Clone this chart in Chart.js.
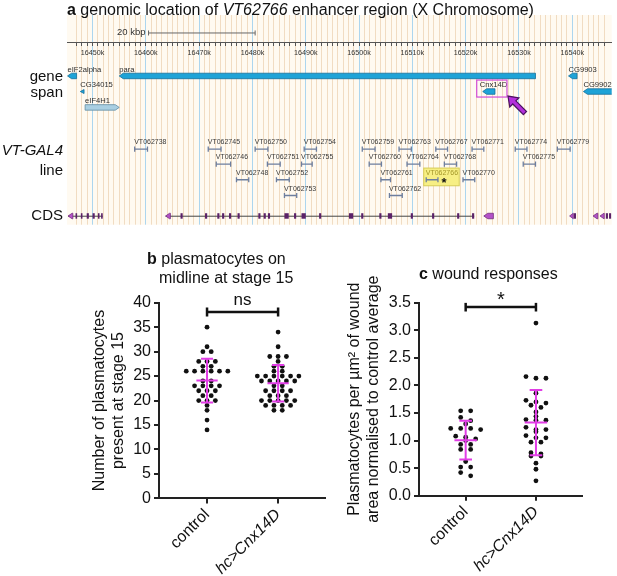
<!DOCTYPE html>
<html>
<head>
<meta charset="utf-8">
<title>VT62766 enhancer / Cnx14D</title>
<script src="https://cdn.jsdelivr.net/npm/chart.js@4.4.1/dist/chart.umd.min.js"></script>
<style>
  body { margin: 0; width: 617px; height: 576px; position: relative; overflow: hidden; background: #fff;
         font-family: "Liberation Sans", Arial, sans-serif; color: #111; }
  canvas { position: absolute; }
  .ttl { position: absolute; font-size: 16px; line-height: 19px; white-space: nowrap; }
</style>
</head>
<body>
<canvas id="genome" width="617" height="230" style="left:0;top:0"></canvas>
<canvas id="plotB" width="335" height="336" style="left:0;top:240px"></canvas>
<canvas id="plotC" width="282" height="336" style="left:335px;top:240px"></canvas>
<div class="ttl" style="left:67px;top:0"><b>a</b> genomic location of <i>VT62766</i> enhancer region (X Chromosome)</div>
<div class="ttl" style="left:147px;top:249px"><b>b</b> plasmatocytes on</div>
<div class="ttl" style="left:159px;top:268px">midline at stage 15</div>
<div class="ttl" style="left:419px;top:264px"><b>c</b> wound responses</div>
<script>
const FONT = '"Liberation Sans", Arial, sans-serif';

// ---- panel a: genome browser (coordinates in kbp) ----
const geneNames  = ['eIF2alpha', 'para', 'CG34015', 'eIF4H1', 'Cnx14D', 'CG9903', 'CG9902'];
const geneStart  = [16445.3, 16455.0, 16447.7, 16448.6, 16523.2, 16539.3, 16542.1];
const geneEnd    = [16447.0, 16533.1, 16448.4, 16455.0, 16525.5, 16540.9, 16560.0];
const geneStrand = [-1, -1, -1, 1, -1, -1, -1];
const geneLane   = [4.07, 4.07, 5.11, 6.17, 5.11, 4.07, 5.11];

const vtNames = ['VT062738', 'VT062745', 'VT062750', 'VT062754', 'VT062759', 'VT062763', 'VT062767', 'VT062771', 'VT062774', 'VT062779',
                 'VT062746', 'VT062751', 'VT062755', 'VT062760', 'VT062764', 'VT062768', 'VT062775',
                 'VT062748', 'VT062752', 'VT062761', 'VT062766', 'VT062770',
                 'VT062753', 'VT062762'];
const vtStart = [16457.9, 16471.7, 16480.5, 16489.7, 16500.6, 16507.5, 16514.4, 16521.2, 16529.3, 16537.2,
                 16473.2, 16482.8, 16489.2, 16501.9, 16509.0, 16516.0, 16530.8,
                 16477.0, 16484.5, 16504.1, 16512.6, 16519.5,
                 16486.0, 16505.7];
const vtEnd   = [16460.3, 16474.1, 16482.9, 16492.0, 16503.0, 16509.8, 16516.6, 16523.4, 16531.5, 16539.6,
                 16475.9, 16485.2, 16491.2, 16504.2, 16511.4, 16518.3, 16533.1,
                 16479.3, 16486.9, 16505.9, 16514.8, 16521.7,
                 16488.3, 16508.1];
const vtLane  = [8.95, 8.95, 8.95, 8.95, 8.95, 8.95, 8.95, 8.95, 8.95, 8.95,
                 9.95, 9.95, 9.95, 9.95, 9.95, 9.95, 9.95,
                 11.0, 11.0, 11.0, 11.0, 11.0,
                 12.05, 12.05];

const cdsLane = 13.4;
const cdsIntrons = [[16445.4, 16451.9], [16463.7, 16521.6]];
const cdsHeads = [[16445.4, 16446.3], [16463.7, 16464.6], [16523.4, 16525.2], [16539.5, 16540.2], [16543.9, 16544.8], [16545.2, 16546.0]];
const cdsExons = [[16446.8, 16447.1], [16447.8, 16448.1], [16448.9, 16449.3], [16450.0, 16450.4], [16451.0, 16451.3], [16451.6, 16451.9],
                  [16466.5, 16466.9], [16471.1, 16471.5], [16473.4, 16473.8], [16474.3, 16474.7], [16475.6, 16476.0], [16477.2, 16477.6],
                  [16481.1, 16481.5], [16482.1, 16482.5], [16482.9, 16483.3], [16486.0, 16486.8], [16487.8, 16488.2], [16489.2, 16490.0],
                  [16492.5, 16492.9], [16498.1, 16498.9], [16500.4, 16500.8], [16503.8, 16504.2], [16505.4, 16506.2], [16509.7, 16510.1],
                  [16513.7, 16514.1], [16518.4, 16518.8], [16521.2, 16521.6],
                  [16540.3, 16540.7], [16546.3, 16546.7], [16546.9, 16547.3]];

const trackLabels = ['gene', 'span', 'VT-GAL4', 'line', 'CDS'];
const trackLabelLane = [4.1, 5.2, 9.05, 10.4, 13.4];
const scaleBar = [16460.5, 16480.5];
const scaleBarLane = 1.2;
const rulerLane = 1.83;
const highlightFragment = 'VT062766';
const highlightGene = 'Cnx14D';

// ---- panel b: plasmatocytes on midline at stage 15 ----
const groups = ['control', 'hc>Cnx14D'];
const bControl = [35, 31, 30, 30, 28, 28, 28, 27, 27, 26, 26, 26, 26, 26, 26, 24, 24, 23, 23, 23, 23,
                  22, 22, 22, 21, 21, 20, 20, 20, 19, 18, 16, 14];
const bHc = [34, 31, 29, 29, 29, 28, 27, 27, 26, 26, 25, 25, 25, 25, 25, 25, 24, 24, 24, 24, 24,
             23, 23, 22, 22, 22, 22, 21, 21, 21, 20, 20, 20, 20, 20, 19, 19, 19, 19, 18, 18];
const bTicks = [0, 5, 10, 15, 20, 25, 30, 35, 40];
const bSig = 'ns';
const bSigY = 38.1;

// ---- panel c: wound responses ----
const cControl = [1.54, 1.54, 1.42, 1.36, 1.30, 1.22, 1.22, 1.22, 1.20, 1.08, 1.06, 1.03, 1.00,
                  0.93, 0.93, 0.84, 0.84, 0.62, 0.52, 0.52, 0.42, 0.36];
const cHc = [3.13, 2.16, 2.13, 2.13, 1.86, 1.73, 1.70, 1.68, 1.64, 1.60, 1.52, 1.44, 1.38, 1.37, 1.37,
             1.24, 1.20, 1.20, 1.16, 1.09, 1.05, 1.05, 0.97, 0.97, 0.78, 0.76, 0.72, 0.72, 0.59, 0.48, 0.27];
const cTicks = [0, 0.5, 1, 1.5, 2, 2.5, 3, 3.5];
const cSig = '*';
const cSigY = 3.42;

// ================= panel a =================
function arrowShape(ctx, x1, x2, y, h, strand, head) {
  const hl = Math.min(head, x2 - x1);
  ctx.beginPath();
  if (strand < 0) {
    ctx.moveTo(x1, y);
    ctx.lineTo(x1 + hl, y - h / 2);
    ctx.lineTo(x2, y - h / 2);
    ctx.lineTo(x2, y + h / 2);
    ctx.lineTo(x1 + hl, y + h / 2);
  } else {
    ctx.moveTo(x2, y);
    ctx.lineTo(x2 - hl, y - h / 2);
    ctx.lineTo(x1, y - h / 2);
    ctx.lineTo(x1, y + h / 2);
    ctx.lineTo(x2 - hl, y + h / 2);
  }
  ctx.closePath();
  ctx.fill();
  ctx.stroke();
}

function centeredText(ctx, text, x, cy) {
  const m = ctx.measureText(text);
  ctx.textBaseline = 'alphabetic';
  ctx.fillText(text, x, cy + (m.actualBoundingBoxAscent - m.actualBoundingBoxDescent) / 2);
}

const tracksPlugin = {
  id: 'tracks',
  beforeDraw(chart) {
    const {ctx, chartArea: a} = chart;
    ctx.save();
    ctx.fillStyle = '#fffaf1';
    ctx.fillRect(a.left, a.top, a.width, a.height);
    ctx.restore();
  },
  beforeDatasetsDraw(chart) {
    const {ctx, scales: {x, y}} = chart;
    const i = vtNames.indexOf(highlightFragment);
    const x1 = x.getPixelForValue(vtStart[i]);
    const yy = y.getPixelForValue(vtLane[i]);
    ctx.save();
    ctx.fillStyle = '#f7ef84';
    ctx.strokeStyle = '#d6cc57';
    ctx.fillRect(x1 - 2.5, yy - 11.7, 35.5, 17.7);
    ctx.strokeRect(x1 - 2.5, yy - 11.7, 35.5, 17.7);
    ctx.restore();
  },
  afterDatasetsDraw(chart) {
    const {ctx, chartArea: a, scales: {x, y}} = chart;
    ctx.save();
    ctx.beginPath();
    ctx.rect(0, a.top, a.right, a.height);
    ctx.clip();

    // gene spans
    ctx.lineWidth = 0.8;
    geneNames.forEach((name, i) => {
      const x1 = x.getPixelForValue(geneStart[i]);
      const x2 = x.getPixelForValue(geneEnd[i]);
      const yy = y.getPixelForValue(geneLane[i]);
      const light = name === 'eIF4H1';
      ctx.fillStyle = light ? '#a9cfe2' : '#1ea3d7';
      ctx.strokeStyle = light ? '#5f8ba3' : '#15709c';
      arrowShape(ctx, x1, x2, yy, name === 'CG34015' ? 4 : 5.5, geneStrand[i], 4);
      ctx.fillStyle = '#2c2c2c';
      ctx.font = `7.6px ${FONT}`;
      ctx.textAlign = 'left';
      ctx.textBaseline = 'alphabetic';
      ctx.fillText(name, x1 - (name === highlightGene ? 3 : 0), yy - 4.4);
      if (name === highlightGene) {
        const bx = x1 - 6, by = yy - 11.5, bw = x2 + 12 - bx, bh = 17;
        ctx.strokeStyle = '#d24ed8';
        ctx.lineWidth = 1.2;
        ctx.strokeRect(bx, by, bw, bh);
        // pointer arrow towards the gene box
        ctx.save();
        ctx.translate(bx + bw + 1, by + bh - 1);
        ctx.rotate(Math.PI / 4);
        ctx.beginPath();
        ctx.moveTo(0, 0);
        ctx.lineTo(9, 6.5);
        ctx.lineTo(9, 2.2);
        ctx.lineTo(24, 2.2);
        ctx.lineTo(24, -2.2);
        ctx.lineTo(9, -2.2);
        ctx.lineTo(9, -6.5);
        ctx.closePath();
        ctx.fillStyle = '#b42fdc';
        ctx.strokeStyle = '#4b1260';
        ctx.lineWidth = 1.2;
        ctx.fill();
        ctx.stroke();
        ctx.restore();
        ctx.lineWidth = 0.8;
      }
    });

    // VT fragment labels
    ctx.font = `7px ${FONT}`;
    ctx.textAlign = 'left';
    ctx.textBaseline = 'alphabetic';
    vtNames.forEach((name, i) => {
      const x1 = x.getPixelForValue(vtStart[i]);
      const yy = y.getPixelForValue(vtLane[i]);
      ctx.fillStyle = name === highlightFragment ? '#a39628' : '#3a3a3a';
      ctx.fillText(name, x1 - 0.5, yy - 4.6);
      if (name === highlightFragment) {
        ctx.fillStyle = '#111';
        ctx.font = `bold 13px ${FONT}`;
        ctx.textAlign = 'center';
        centeredText(ctx, '*', x.getPixelForValue(vtEnd[i]) + 6, yy + 1);
        ctx.font = `7px ${FONT}`;
        ctx.textAlign = 'left';
      }
    });

    // CDS track
    const yc = y.getPixelForValue(cdsLane);
    ctx.strokeStyle = '#444';
    ctx.lineWidth = 1;
    cdsIntrons.forEach(([s, e]) => {
      ctx.beginPath();
      ctx.moveTo(x.getPixelForValue(s), yc + 0.5);
      ctx.lineTo(x.getPixelForValue(e), yc + 0.5);
      ctx.stroke();
    });
    ctx.fillStyle = '#5b2168';
    cdsExons.forEach(([s, e]) => {
      const x1 = x.getPixelForValue(s), x2 = x.getPixelForValue(e);
      ctx.fillRect(x1, yc - 2.5, Math.max(1.6, x2 - x1), 5.5);
    });
    ctx.fillStyle = '#b452c8';
    ctx.strokeStyle = '#74307f';
    ctx.lineWidth = 0.8;
    cdsHeads.forEach(([s, e]) => {
      arrowShape(ctx, x.getPixelForValue(s), x.getPixelForValue(e), yc + 0.3, 5.5, -1, 4);
    });

    // scale bar caption
    ctx.fillStyle = '#333';
    ctx.font = `9.5px ${FONT}`;
    ctx.textAlign = 'right';
    centeredText(ctx, '20 kbp', x.getPixelForValue(scaleBar[0]) - 3, y.getPixelForValue(scaleBarLane));
    ctx.restore();

    // track names at the left
    ctx.save();
    ctx.fillStyle = '#111';
    ctx.textAlign = 'right';
    ctx.textBaseline = 'middle';
    trackLabels.forEach((t, i) => {
      ctx.font = (t === 'VT-GAL4' ? 'italic ' : '') + `15px ${FONT}`;
      ctx.fillText(t, a.left - 4, y.getPixelForValue(trackLabelLane[i]));
    });
    ctx.restore();
  }
};

const isWhole = v => Math.abs(v - Math.round(v)) < 1e-6;
const vtPoints = [];
vtNames.forEach((n, i) => {
  vtPoints.push({x: vtStart[i], y: vtLane[i]}, {x: vtEnd[i], y: vtLane[i]}, {x: vtEnd[i], y: null});
});

new Chart(document.getElementById('genome'), {
  type: 'line',
  data: {
    datasets: [
      {
        data: scaleBar.map(v => ({x: v, y: scaleBarLane})),
        borderColor: '#666', borderWidth: 1,
        pointStyle: 'line', rotation: 90, pointRadius: 2.5, pointBorderColor: '#666', pointBorderWidth: 1
      },
      {
        data: vtPoints,
        borderColor: '#6d7e9e', borderWidth: 1.3, spanGaps: false,
        pointStyle: 'line', rotation: 90, pointRadius: 2.6, pointBorderColor: '#6d7e9e', pointBorderWidth: 1.3
      }
    ]
  },
  options: {
    responsive: false,
    animation: false,
    events: [],
    layout: {padding: {left: 67, right: 0, top: 15, bottom: 5}},
    plugins: {legend: {display: false}, tooltip: {enabled: false}},
    scales: {
      x: {
        type: 'linear', min: 16445.2, max: 16547.4,
        position: {y: rulerLane},
        ticks: {
          stepSize: 1, autoSkip: false, maxTicksLimit: 500, minRotation: 0, maxRotation: 0, padding: 3,
          color: '#333', font: {family: FONT, size: 7.2},
          callback: v => (isWhole(v) && Math.round(v) % 10 === 0) ? Math.round(v) + 'k' : ''
        },
        grid: {
          drawOnChartArea: true, drawTicks: true, tickLength: 3, lineWidth: 1,
          color: c => !isWhole(c.tick.value) ? 'rgba(0,0,0,0)' : (Math.round(c.tick.value) % 10 === 0 ? '#acd6ef' : '#f1dcc2'),
          tickColor: c => isWhole(c.tick.value) ? '#555' : 'rgba(0,0,0,0)'
        },
        border: {color: '#555', width: 1}
      },
      y: {display: false, min: 0, max: 14, reverse: true}
    }
  },
  plugins: [tracksPlugin]
});

// ================= panels b and c =================
const mean = a => a.reduce((s, v) => s + v, 0) / a.length;
const sd = a => { const m = mean(a); return Math.sqrt(a.reduce((s, v) => s + (v - m) ** 2, 0) / (a.length - 1)); };

// column-scatter layout: values in the same row are spread symmetrically around the group centre
function swarm(values, center, step, tol) {
  const sorted = [...values].sort((a, b) => b - a);
  const rows = [];
  sorted.forEach(v => {
    const row = rows[rows.length - 1];
    if (row && row[0] - v <= tol) row.push(v); else rows.push([v]);
  });
  const pts = [];
  rows.forEach(row => row.forEach((v, i) => pts.push({x: center + (i - (row.length - 1) / 2) * step, y: v})));
  return pts;
}

const sigPlugin = {
  id: 'sig',
  afterDatasetsDraw(chart, args, opts) {
    const {ctx, scales: {x, y}} = chart;
    ctx.save();
    ctx.fillStyle = '#111';
    ctx.font = `${opts.size}px ${FONT}`;
    ctx.textAlign = 'center';
    centeredText(ctx, opts.text, (x.getPixelForValue(1) + x.getPixelForValue(2)) / 2, y.getPixelForValue(opts.y) - 11);
    ctx.restore();
  }
};

function dotPlot(id, cfg) {
  const sets = [cfg.control, cfg.hc];
  const err = [];
  sets.forEach((vals, i) => {
    const cx = i + 1, m = mean(vals), s = sd(vals);
    err.push({x: cx - cfg.meanHalf, y: m}, {x: cx + cfg.meanHalf, y: m}, {x: cx, y: null},
             {x: cx, y: m + s}, {x: cx, y: m - s}, {x: cx, y: null},
             {x: cx - cfg.capHalf, y: m + s}, {x: cx + cfg.capHalf, y: m + s}, {x: cx, y: null},
             {x: cx - cfg.capHalf, y: m - s}, {x: cx + cfg.capHalf, y: m - s}, {x: cx, y: null});
  });
  const axisGrid = {drawOnChartArea: false, drawTicks: true, tickLength: 5, color: '#222', lineWidth: 2};
  new Chart(document.getElementById(id), {
    type: 'scatter',
    data: {
      datasets: [
        {type: 'line', data: err, borderColor: '#e13de6', borderWidth: 2, pointRadius: 0, spanGaps: false},
        {type: 'line', data: [{x: 1, y: cfg.sigY}, {x: 2, y: cfg.sigY}], borderColor: '#111', borderWidth: 2.5,
         pointStyle: 'line', rotation: 90, pointRadius: 4.5, pointBorderColor: '#111', pointBorderWidth: 2.5},
        {data: swarm(cfg.control, 1, cfg.step, cfg.tol), pointRadius: 2.4, backgroundColor: '#111', borderWidth: 0},
        {data: swarm(cfg.hc, 2, cfg.step, cfg.tol), pointRadius: 2.4, backgroundColor: '#111', borderWidth: 0}
      ]
    },
    options: {
      responsive: false,
      animation: false,
      events: [],
      layout: {padding: {left: cfg.padLeft, right: cfg.padRight, top: 62.7, bottom: 0}},
      plugins: {legend: {display: false}, tooltip: {enabled: false}, sig: {text: cfg.sig, y: cfg.sigY, size: cfg.sigSize}},
      scales: {
        x: {
          type: 'linear', min: cfg.xMin, max: cfg.xMax,
          afterBuildTicks: s => { s.ticks = groups.map((g, i) => ({value: i + 1})); },
          afterFit: s => { s.height = cfg.xHeight; },
          ticks: {
            autoSkip: false, minRotation: 45, maxRotation: 45, padding: 2, color: '#111',
            callback: v => groups[Math.round(v) - 1],
            font: c => ({family: FONT, size: 16, style: c.index === 1 ? 'italic' : 'normal'})
          },
          grid: axisGrid,
          border: {color: '#222', width: 2}
        },
        y: {
          min: 0, max: cfg.ticks[cfg.ticks.length - 1],
          afterBuildTicks: s => { s.ticks = cfg.ticks.map(v => ({value: v})); },
          afterFit: s => { s.width = cfg.yWidth; },
          ticks: {padding: 3, color: '#111', font: {family: FONT, size: 16}, callback: cfg.fmt},
          grid: axisGrid,
          border: {color: '#222', width: 2},
          title: {display: true, text: cfg.title, color: '#111', padding: 0, font: {family: FONT, size: 16}}
        }
      }
    },
    plugins: [sigPlugin]
  });
}

dotPlot('plotB', {
  control: bControl, hc: bHc, ticks: bTicks, sig: bSig, sigY: bSigY, sigSize: 17,
  title: ['Number of plasmatocytes', 'present at stage 15'],
  fmt: v => String(v),
  xMin: 0.324, xMax: 2.66, padLeft: 90, padRight: 10, yWidth: 69, xHeight: 77.6,
  step: 0.117, tol: 0, meanHalf: 0.15, capHalf: 0.085
});

dotPlot('plotC', {
  control: cControl, hc: cHc, ticks: cTicks, sig: cSig, sigY: cSigY, sigSize: 20,
  title: ['Plasmatocytes per \u00b5m\u00b2 of wound', 'area normalised to control average'],
  fmt: v => v.toFixed(1),
  xMin: 0.336, xMax: 2.655, padLeft: 10, padRight: 35, yWidth: 74, xHeight: 80.3,
  step: 0.142, tol: 0.06, meanHalf: 0.16, capHalf: 0.09
});
</script>
</body>
</html>
